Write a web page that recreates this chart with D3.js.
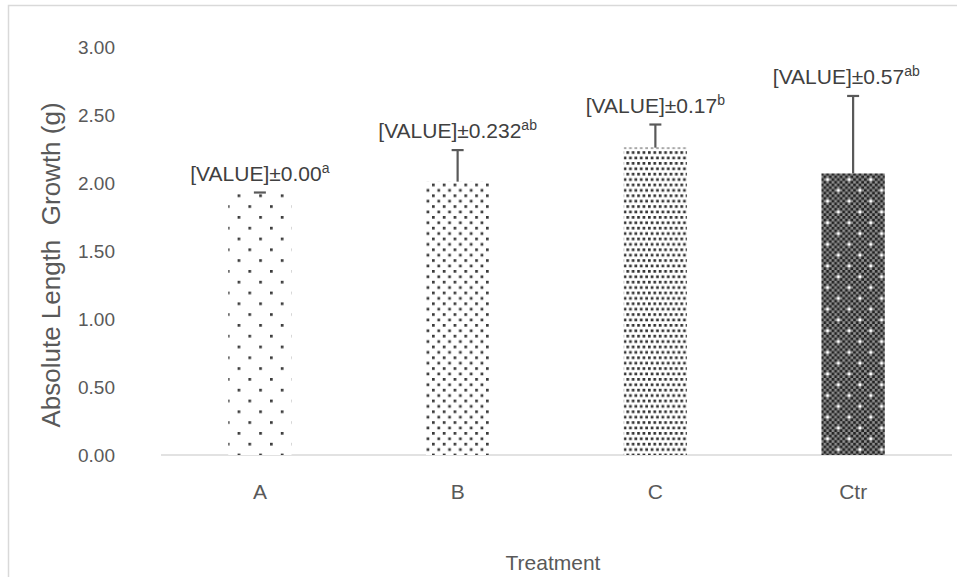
<!DOCTYPE html>
<html>
<head>
<meta charset="utf-8">
<script src="https://cdn.jsdelivr.net/npm/d3@7"></script>
<style>
  body { margin: 0; background: #fff; }
  text { font-family: "Liberation Sans", Arial, sans-serif; }
</style>
</head>
<body>
<div id="chart"></div>
<script>
const treatments = ["A", "B", "C", "Ctr"];
const growth = [1.93, 2.01, 2.26, 2.07];
const errors = [0.00, 0.232, 0.17, 0.57];
const errLabels = ["0.00", "0.232", "0.17", "0.57"];
const letters = ["a", "ab", "b", "ab"];
const yTicks = [0, 0.5, 1, 1.5, 2, 2.5, 3];

// 8x8 excel-like fill bitmaps: 1 = dark cell, w = white cell, 0 = background
const bitmaps = [
    ["10000000", "00000000", "00000000", "00000000", "00001000", "00000000", "00000000", "00000000"],
    ["10001000", "00000000", "00100010", "00000000", "10001000", "00000000", "00100010", "00000000"],
    ["10101010", "00000000", "01010101", "00000000", "10101010", "00000000", "01010101", "00000000"],
    ["10101010", "01010101", "10w01010", "01010101", "10101010", "01010101", "101010w0", "01010101"]
];
const onColor = ["#3a3a3a", "#3a3a3a", "#333333", "#222222"];
const bgColor = ["#ffffff", "#ffffff", "#ffffff", "#8f8f8f"];

const W = 957, H = 577;
const svg = d3.select("#chart")
    .append("svg")
    .attr("width", W)
    .attr("height", H);

svg.append("rect")
    .attr("x", 8.5)
    .attr("y", 5.5)
    .attr("width", W + 20)
    .attr("height", H + 20)
    .attr("fill", "#fff")
    .attr("stroke", "#d9d9d9")
    .attr("stroke-width", 1.5);

const x = d3.scaleBand()
    .domain(treatments)
    .range([161, 952])
    .paddingInner(0.68)
    .paddingOuter(0.34);

const y = d3.scaleLinear()
    .domain([0, 3])
    .range([455, 47]);

// patterns
const px = 2.7;
const defs = svg.append("defs");
bitmaps.forEach((bm, i) => {
    const p = defs.append("pattern")
        .attr("id", "pat" + i)
        .attr("patternUnits", "userSpaceOnUse")
        .attr("width", px * 8)
        .attr("height", px * 8);
    p.append("rect")
        .attr("width", px * 8)
        .attr("height", px * 8)
        .attr("fill", bgColor[i]);
    bm.forEach((row, r) => {
        row.split("").forEach((c, k) => {
            if (c !== "0") {
                p.append("rect")
                    .attr("x", k * px)
                    .attr("y", r * px)
                    .attr("width", px)
                    .attr("height", px)
                    .attr("fill", c === "w" ? "#ffffff" : onColor[i]);
            }
        });
    });
});

// y axis
const yAxis = svg.append("g")
    .attr("transform", "translate(161,0)")
    .call(d3.axisLeft(y).tickValues(yTicks).tickFormat(d3.format(".2f")).tickSize(0).tickPadding(46));
yAxis.select(".domain").remove();
yAxis.selectAll("text")
    .attr("font-size", 19)
    .attr("fill", "#595959")
    .style("font-family", "'Liberation Sans', Arial, sans-serif");

// baseline
svg.append("line")
    .attr("x1", 161)
    .attr("x2", 952)
    .attr("y1", y(0))
    .attr("y2", y(0))
    .attr("stroke", "#d9d9d9")
    .attr("stroke-width", 1.5);

// x axis labels
const xAxis = svg.append("g")
    .attr("transform", `translate(0,${y(0)})`)
    .call(d3.axisBottom(x).tickSize(0).tickPadding(29));
xAxis.select(".domain").remove();
xAxis.selectAll("text")
    .attr("font-size", 21)
    .attr("fill", "#595959")
    .style("font-family", "'Liberation Sans', Arial, sans-serif");

// bars
svg.selectAll(".bar")
    .data(treatments)
    .join("rect")
    .attr("class", "bar")
    .attr("x", d => x(d))
    .attr("width", x.bandwidth())
    .attr("y", (d, i) => y(growth[i]))
    .attr("height", (d, i) => y(0) - y(growth[i]))
    .attr("fill", (d, i) => `url(#pat${i})`);

// error bars (plus only)
const eb = svg.selectAll(".err")
    .data(treatments)
    .join("g")
    .attr("class", "err")
    .attr("stroke", "#595959")
    .attr("stroke-width", 2.2);
eb.append("line")
    .attr("x1", d => x(d) + x.bandwidth() / 2)
    .attr("x2", d => x(d) + x.bandwidth() / 2)
    .attr("y1", (d, i) => y(growth[i]))
    .attr("y2", (d, i) => y(growth[i] + errors[i]));
eb.append("line")
    .attr("x1", d => x(d) + x.bandwidth() / 2 - 6)
    .attr("x2", d => x(d) + x.bandwidth() / 2 + 6)
    .attr("y1", (d, i) => y(growth[i] + errors[i]))
    .attr("y2", (d, i) => y(growth[i] + errors[i]));

// data labels
const lbl = svg.selectAll(".lbl")
    .data(treatments)
    .join("text")
    .attr("class", "lbl")
    .attr("x", d => x(d) + x.bandwidth() / 2)
    .attr("y", (d, i) => y(growth[i] + errors[i]) - 12)
    .attr("text-anchor", "middle")
    .attr("font-size", 21)
    .attr("fill", "#404040");
lbl.append("tspan")
    .text((d, i) => "[VALUE]±" + errLabels[i]);
lbl.append("tspan")
    .attr("dy", -8)
    .attr("font-size", 14)
    .text((d, i) => letters[i]);

// keep labels inside the chart on the right side
const maxRight = 920;
lbl.each(function() {
    const bb = this.getBBox();
    const over = bb.x + bb.width - maxRight;
    if (over > 0) d3.select(this).attr("x", +d3.select(this).attr("x") - over);
});

// axis titles
svg.append("text")
    .attr("x", 553)
    .attr("y", 570)
    .attr("text-anchor", "middle")
    .attr("font-size", 21)
    .attr("fill", "#595959")
    .text("Treatment");

svg.append("text")
    .attr("transform", `translate(60,${(y(0) + y(3)) / 2 + 14}) rotate(-90)`)
    .attr("text-anchor", "middle")
    .attr("font-size", 26)
    .attr("fill", "#595959")
    .style("white-space", "pre")
    .text("Absolute Length  Growth (g)");
</script>
</body>
</html>
